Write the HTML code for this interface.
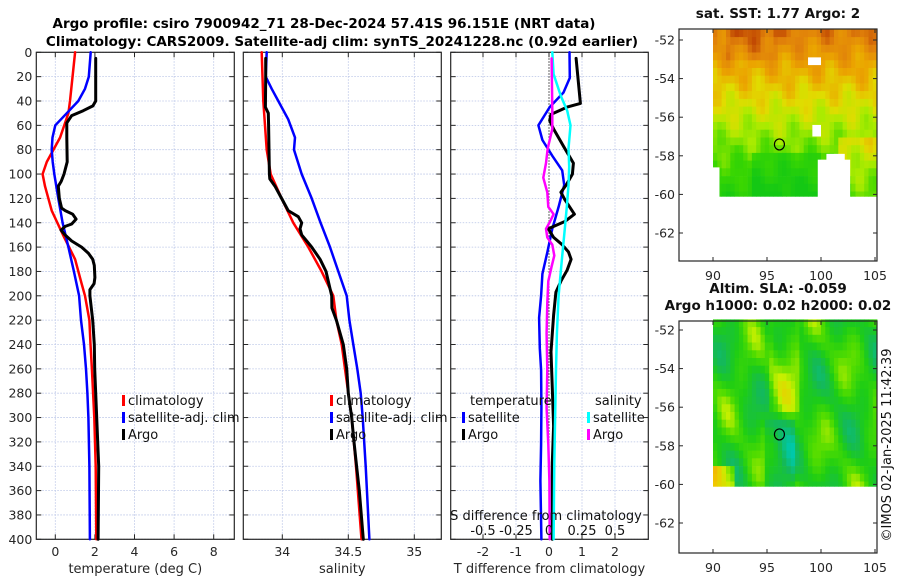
<!DOCTYPE html>
<html><head><meta charset="utf-8"><style>
html,body{margin:0;padding:0;background:#fff;}
svg{display:block;font-family:"DejaVu Sans","Liberation Sans",sans-serif;}
</style></head><body>
<svg id="c" width="900" height="580" viewBox="0 0 900 580" xmlns="http://www.w3.org/2000/svg">
<text x="324" y="28" font-size="13.5" font-weight="bold" text-anchor="middle">Argo profile: csiro 7900942_71 28-Dec-2024 57.41S 96.151E (NRT data)</text>
<text x="342" y="46" font-size="13.5" font-weight="bold" text-anchor="middle">Climatology: CARS2009. Satellite-adj clim: synTS_20241228.nc (0.92d earlier)</text>
<g id="g"></g>
</svg>
<script>
// ---- data ----
const tClimDepth=[0,40,50,70,90,100,110,130,150,170,190,200,220,240,260,300,340,400];
const tClimVal=[1.0,0.74,0.66,0.24,-0.43,-0.64,-0.52,-0.18,0.39,1.0,1.33,1.5,1.72,1.78,1.85,1.97,2.04,2.07];
const tSatDepth=[0,20,30,40,50,60,70,80,90,100,120,140,160,180,200,220,240,260,280,300,340,400];
const tSatVal=[1.79,1.69,1.5,1.16,0.58,0,-0.14,-0.18,-0.13,-0.05,0.15,0.37,0.66,0.94,1.2,1.3,1.45,1.55,1.62,1.67,1.72,1.75];
const tArgoDepth=[5,40,44,48,52,58,70,90,100,106,110,120,128,130,133,137,141,143,146,150,155,160,165,170,175,185,190,195,200,220,240,260,280,300,320,340,400];
const tArgoVal=[2.04,2.04,1.9,1.41,0.83,0.58,0.58,0.6,0.44,0.3,0.15,0.2,0.32,0.5,0.88,1.05,0.83,0.5,0.29,0.49,0.83,1.33,1.67,1.89,1.97,2.0,1.96,1.75,1.75,1.89,1.97,1.99,2.04,2.09,2.14,2.19,2.16];
const sClimDepth=[0,40,80,100,120,140,160,180,200,220,240,280,300,340,400];
const sClimVal=[33.844,33.856,33.882,33.912,33.995,34.083,34.197,34.298,34.386,34.41,34.45,34.5,34.526,34.558,34.60];
const sSatDepth=[0,20,30,40,55,70,80,100,120,140,160,180,200,220,240,260,280,300,340,400];
const sSatVal=[33.882,33.874,33.92,33.97,34.045,34.096,34.089,34.147,34.223,34.29,34.361,34.424,34.488,34.508,34.538,34.568,34.594,34.609,34.632,34.66];
const sArgoDepth=[5,20,45,50,60,100,104,110,120,130,135,140,145,150,155,160,170,180,200,210,220,240,260,280,300,320,340,360,400];
const sArgoVal=[33.874,33.874,33.872,33.894,33.896,33.902,33.905,33.945,33.995,34.045,34.121,34.147,34.134,34.147,34.185,34.223,34.286,34.331,34.374,34.376,34.41,34.462,34.488,34.5,34.526,34.543,34.563,34.583,34.614];
const dTSatDepth=[0,21,33,45,60,72,85,97,109,127,145,164,182,200,218,243,261,292,322,352,400];
const dTSatVal=[0.62,0.63,0.44,0.02,-0.32,-0.2,0.1,0.4,0.46,0.29,0.1,-0.05,-0.2,-0.24,-0.3,-0.28,-0.24,-0.23,-0.24,-0.26,-0.23];
const dTArgoDepth=[5,42,45,51,56,63,79,91,100,109,115,121,133,139,145,152,158,164,170,179,188,197,216,246,276,307,337,400];
const dTArgoVal=[0.82,0.95,0.55,0.06,0.02,0.14,0.48,0.74,0.71,0.52,0.36,0.48,0.77,0.48,-0.02,0.14,0.4,0.59,0.67,0.55,0.36,0.21,0.14,0.06,0.1,0.14,0.1,0.1];
const dSSatDepth=[0,18,36,48,60,79,94,109,127,145,170,200,231,261,292,337,400];
const dSSatVal=[0.025,0.035,0.09,0.138,0.163,0.148,0.153,0.148,0.135,0.12,0.098,0.073,0.06,0.053,0.048,0.04,0.035];
const dSArgoDepth=[5,48,63,79,91,103,115,127,133,139,145,152,158,167,176,188,206,231,261,292,322,352,400];
const dSArgoVal=[0.02,0.025,0.025,-0.01,-0.023,-0.043,-0.013,-0.005,0.035,0.008,-0.023,-0.013,0.025,0.04,0.02,-0.005,-0.013,-0.018,-0.013,-0.018,-0.005,0.003,0.005];
const depthTicks=[0,20,40,60,80,100,120,140,160,180,200,220,240,260,280,300,320,340,360,380,400];
const tTicks=[0,2,4,6,8];
const sTicks=[34,34.5,35];
const dTTicks=[-2,-1,0,1,2];
const dSTicks=[-0.5,-0.25,0,0.25,0.5];
const latTicks=[-52,-54,-56,-58,-60,-62];
const lonTicks=[90,95,100,105];
const argoLon=96.151, argoLat=-57.41;

// ---- helpers ----
const NS="http://www.w3.org/2000/svg";
const G=document.getElementById('g');
function el(tag,attrs,parent){const e=document.createElementNS(NS,tag);for(const k in attrs)e.setAttribute(k,attrs[k]);(parent||G).appendChild(e);return e;}
function txt(x,y,s,attrs,parent){const e=el('text',Object.assign({x:x,y:y,'font-size':12.5,fill:'#262626'},attrs||{}),parent);e.textContent=s;return e;}
const yD=d=>52.3+1.2175*d;
const xT=t=>55.3+19.8*t;
const xS=s=>282.3+132*(s-34);
const xDT=t=>549+33*t;
const xDS=s=>549+132*s;
const Y0=52.3,Y1=539.3;

function panel(x0,x1,xTicks,xf,tickFmt,xlabel,name,showDepth){
  const g=el('g',{});
  
  
  el('rect',{x:x0,y:Y0,width:x1-x0,height:Y1-Y0,fill:'#fff'},g);
  depthTicks.forEach(d=>{
    el('line',{x1:x0,x2:x1,y1:yD(d),y2:yD(d),stroke:'#b8c4e6','stroke-width':0.8,'stroke-dasharray':'1.5,1.5'},g);
    el('line',{x1:x0,x2:x0+5,y1:yD(d),y2:yD(d),stroke:'#262626'},g);
    el('line',{x1:x1-5,x2:x1,y1:yD(d),y2:yD(d),stroke:'#262626'},g);
    if(showDepth){const t=txt(x0-4,yD(d)+4.5,String(d),{'text-anchor':'end'},g);
      }
  });
  xTicks.forEach(v=>{
    const X=xf(v);
    if(v===0&&name==='diff-panel'){el('line',{x1:X,x2:X,y1:Y0,y2:Y1,stroke:'#333','stroke-width':1,'stroke-dasharray':'1.5,1.5'},g);}
    else el('line',{x1:X,x2:X,y1:Y0,y2:Y1,stroke:'#b8c4e6','stroke-width':0.8,'stroke-dasharray':'1.5,1.5'},g);
    el('line',{x1:X,x2:X,y1:Y1,y2:Y1-5,stroke:'#262626'},g);
    el('line',{x1:X,x2:X,y1:Y0,y2:Y0+5,stroke:'#262626'},g);
    const t=txt(X,556,tickFmt(v),{'text-anchor':'middle'},g);
    
  });
  el('rect',{x:x0,y:Y0,width:x1-x0,height:Y1-Y0,fill:'none',stroke:'#262626','stroke-width':1.2},g);
  const xl=txt((x0+x1)/2,573,xlabel,{'text-anchor':'middle','font-size':13},g);
  
  return g;
}
function line(depths,vals,xf,color,w,name,parent){
  const pts=depths.map((d,i)=>xf(vals[i]).toFixed(1)+','+yD(d).toFixed(1)).join(' ');
  const p=el('polyline',{points:pts,fill:'none',stroke:color,'stroke-width':w,'stroke-linejoin':'round','stroke-linecap':'round'},parent);
  
  
}
function legendRow(x,y,color,label,parent,name){
  const g=el('g',{},parent);
  
  
  el('rect',{x:x,y:y-10,width:3,height:11,fill:color},g);
  txt(x+6,y,label,{fill:'#111','font-size':13},g);
}

// Panel 1 temperature
const p1=panel(36.3,234.3,tTicks,xT,v=>String(v),'temperature (deg C)','temperature-panel',true);
line(tClimDepth,tClimVal,xT,'#ff0000',2.5,'temp-climatology-line',p1);
line(tSatDepth,tSatVal,xT,'#0000ff',2.5,'temp-satellite-line',p1);
line(tArgoDepth,tArgoVal,xT,'#000',3,'temp-argo-line',p1);
legendRow(122,405,'#ff0000','climatology',p1,'legend-climatology');
legendRow(122,422,'#0000ff','satellite-adj. clim',p1,'legend-satellite-adj');
legendRow(122,439,'#000','Argo',p1,'legend-argo');

// Panel 2 salinity
const p2=panel(243.3,441.3,sTicks,xS,v=>String(v),'salinity','salinity-panel',false);
line(sClimDepth,sClimVal,xS,'#ff0000',2.5,'sal-climatology-line',p2);
line(sSatDepth,sSatVal,xS,'#0000ff',2.5,'sal-satellite-line',p2);
line(sArgoDepth,sArgoVal,xS,'#000',3,'sal-argo-line',p2);
legendRow(330,405,'#ff0000','climatology',p2,'legend-climatology-2');
legendRow(330,422,'#0000ff','satellite-adj. clim',p2,'legend-satellite-adj-2');
legendRow(330,439,'#000','Argo',p2,'legend-argo-2');

// Panel 3 difference
const p3=panel(450.7,648.3,dTTicks,xDT,v=>String(v),'T difference from climatology','diff-panel',false);
line(dTSatDepth,dTSatVal,xDT,'#0000ff',2.5,'dT-satellite-line',p3);
line(dTArgoDepth,dTArgoVal,xDT,'#000',3,'dT-argo-line',p3);
line(dSSatDepth,dSSatVal,xDS,'#00ffff',2.5,'dS-satellite-line',p3);
line(dSArgoDepth,dSArgoVal,xDS,'#ff00ff',2.5,'dS-argo-line',p3);
txt(470,405,'temperature',{fill:'#111','font-size':13},p3);
legendRow(462,422,'#0000ff','satellite',p3,'legend-dT-satellite');
legendRow(462,439,'#000','Argo',p3,'legend-dT-argo');
txt(595,405,'salinity',{fill:'#111','font-size':13},p3);
legendRow(587,422,'#00ffff','satellite',p3,'legend-dS-satellite');
legendRow(587,439,'#ff00ff','Argo',p3,'legend-dS-argo');
const sl=txt(546,520,'S difference from climatology',{'text-anchor':'middle','font-size':13,fill:'#111'},p3);

dSTicks.forEach(v=>{const t=txt(xDS(v),535,String(v),{'text-anchor':'middle','font-size':13,fill:'#111'},p3);
  });

// ---- maps ----
function lerp(a,b,t){return a+(b-a)*t;}
function cmap(stops,v){v=Math.max(0,Math.min(1,v));for(let i=0;i<stops.length-1;i++){const a=stops[i],b=stops[i+1];if(v<=b[0]){const t=(v-a[0])/(b[0]-a[0]);return 'rgb('+[1,2,3].map(k=>Math.round(lerp(a[k],b[k],t))).join(',')+')';}}const l=stops[stops.length-1];return 'rgb('+l[1]+','+l[2]+','+l[3]+')';}
const sstStops=[[0,20,200,20],[0.25,60,215,0],[0.42,170,235,0],[0.55,225,220,0],[0.7,235,165,0],[0.85,225,130,10],[1,180,50,0]];
const slaStops=[[0,0,200,170],[0.2,20,185,90],[0.4,30,205,20],[0.55,80,220,0],[0.7,200,240,0],[0.85,240,200,0],[1,240,130,10]];
function map(y0,latRef,titleLines,name,field,stops,holeRects){
  const g=el('g',{});
  
  
  const mx=lon=>713+(lon-90)*10.8;
  const my=lat=>latRef+(-52-lat)*19.3;
  el('rect',{x:679,y:y0,width:198,height:232,fill:'#fff'},g);
  const cells=el('g',{},g);
  
  
  const top=my(-51.45), bot=my(-60.1);
  const dl=0.4;
  for(let i=0;i<22;i++){
    const lat=-51.45-i*dl;
    for(let j=0;j<38;j++){
      const lon=90+j*dl;
      const v=field(lon,lat);
      const yA=Math.max(top,my(lat)), yB=Math.min(bot,my(lat-dl));
      const xA=mx(lon), xB=Math.min(877,mx(lon+dl));
      el('rect',{x:xA.toFixed(1),y:yA.toFixed(1),width:(xB-xA+0.4).toFixed(1),height:(yB-yA+0.4).toFixed(1),fill:cmap(stops,v)},cells);
    }
  }
  holeRects.forEach(h=>{el('rect',{x:mx(h[0]),y:my(h[3]),width:mx(h[1])-mx(h[0]),height:my(h[2])-my(h[3]),fill:'#fff'},cells);});
  latTicks.forEach(l=>{const Y=my(l);
    el('line',{x1:679,x2:683,y1:Y,y2:Y,stroke:'#262626'},g);
    el('line',{x1:873,x2:877,y1:Y,y2:Y,stroke:'#262626'},g);
    const t=txt(675,Y+4.5,String(l),{'text-anchor':'end'},g);
    });
  lonTicks.forEach(l=>{const X=mx(l);
    el('line',{x1:X,x2:X,y1:y0+232,y2:y0+228,stroke:'#262626'},g);
    el('line',{x1:X,x2:X,y1:y0,y2:y0+4,stroke:'#262626'},g);
    const t=txt(X,y0+251,String(l),{'text-anchor':'middle'},g);
    });
  el('rect',{x:679,y:y0,width:198,height:232,fill:'none',stroke:'#262626','stroke-width':1.2},g);
  const c=el('ellipse',{cx:mx(argoLon),cy:my(argoLat),rx:5,ry:5.5,fill:'none',stroke:'#000','stroke-width':1.2},g);
  
  titleLines.forEach((s,i)=>{const t=txt(778,y0-11-(titleLines.length-1-i)*17,s,{'text-anchor':'middle','font-weight':'bold','font-size':13.5,fill:'#111'},g);
    });
}
const sstField=(lon,lat)=>{
  let v=0.1+(lat+60)*0.088;
  v+=0.05*Math.sin(lon*1.7+lat*2.3)+0.04*Math.cos(lon*2.9-lat*1.3);
  if(lat<-57.6&&lon>93.5&&lon<100)v-=0.12;
  if(lon>101.5&&lat<-57)v+=0.18;
  if(lat>-53&&lon>91&&lon<96)v+=0.06;
  return v;
};
// hole rects: [lonMin, lonMax, latMin, latMax]
const sstHoles=[[99.7,102.7,-60.2,-58.2],[100.5,102.2,-58.3,-57.9],[90,90.6,-60.2,-58.6],[98.8,100,-53.3,-52.9],[99.2,100,-57,-56.4]];
const slaField=(lon,lat)=>{
  let v=0.42+0.12*Math.sin(lon*0.9+lat*1.1)+0.1*Math.cos(lon*1.3-lat*0.8)+0.06*Math.sin(lon*2.1+lat*1.7);
  if(lon<92&&lat<-59)v+=0.4;
  if(lon>94.5&&lon<97.5&&lat<-56.5)v-=0.15;
  if(lat>-56&&lon>95&&lon<98)v+=0.12;
  return v;
};
map(29,40,['sat. SST: 1.77 Argo: 2'],'sst-map',sstField,sstStops,sstHoles);
map(321,330,['Altim. SLA: -0.059','Argo h1000: 0.02 h2000: 0.02'],'sla-map',slaField,slaStops,[]);
const cp=txt(0,0,'©IMOS 02-Jan-2025 11:42:39',{'font-size':13,fill:'#111','text-anchor':'middle',transform:'translate(891,445) rotate(-90)'});


</script>
</body></html>
